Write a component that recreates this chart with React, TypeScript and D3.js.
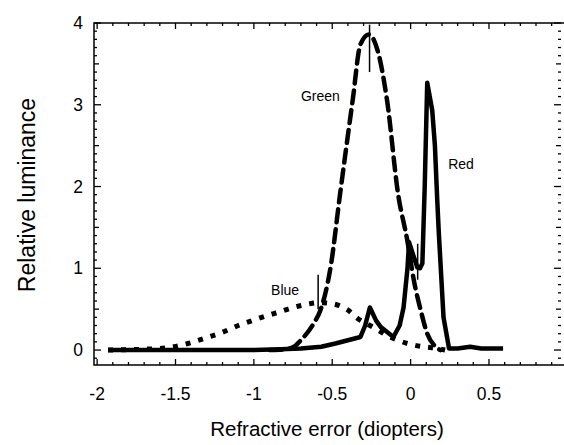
import * as d3 from "d3";
import React from "react";

// values
const redX = [-1.93, -1.5, -1.0, -0.83, -0.7, -0.57, -0.48, -0.4, -0.32, -0.29, -0.26, -0.22, -0.19, -0.15, -0.11, -0.07, -0.045, -0.02, -0.01, 0.01, 0.043, 0.06, 0.075, 0.09, 0.106, 0.138, 0.155, 0.17, 0.18, 0.21, 0.245, 0.3, 0.38, 0.45, 0.59];
const redY = [0.0, 0.0, 0.0, 0.01, 0.02, 0.04, 0.08, 0.12, 0.16, 0.3, 0.52, 0.36, 0.28, 0.22, 0.16, 0.3, 0.52, 1.0, 1.32, 1.2, 1.01, 1.0, 1.06, 2.0, 3.27, 2.93, 2.5, 1.83, 1.43, 0.4, 0.02, 0.02, 0.04, 0.02, 0.02];

const greenX = [-0.9, -0.8, -0.745, -0.7, -0.617, -0.575, -0.51, -0.45, -0.37, -0.32, -0.266, -0.21, -0.15, -0.08, -0.021, 0.021, 0.064, 0.106, 0.16, 0.19];
const greenY = [0.0, 0.01, 0.04, 0.12, 0.33, 0.49, 1.02, 1.91, 3.05, 3.74, 3.86, 3.66, 3.05, 1.91, 1.34, 0.85, 0.49, 0.2, 0.04, 0.0];

const blueX = [-1.93, -1.7, -1.6, -1.51, -1.42, -1.32, -1.21, -1.1, -0.98, -0.85, -0.75, -0.66, -0.58, -0.51, -0.45, -0.4, -0.34, -0.24, -0.13, -0.02, 0.08, 0.17, 0.22];
const blueY = [0.0, 0.01, 0.02, 0.04, 0.08, 0.14, 0.21, 0.3, 0.38, 0.46, 0.52, 0.56, 0.58, 0.57, 0.54, 0.49, 0.39, 0.28, 0.16, 0.08, 0.04, 0.02, 0.0];

// thin peak markers
const markerX = [-0.262, -0.59, 0.045];
const markerTop = [3.98, 0.92, 1.3];
const markerBottom = [3.4, 0.5, 0.86];

const seriesLabels = ["Green", "Red", "Blue"];
const labelX = [-0.7, 0.24, -0.89];
const labelY = [3.05, 2.22, 0.67];

const xTickLabels = [-2, -1.5, -1, -0.5, 0, 0.5];
const yTickLabels = [0, 1, 2, 3, 4];

const font = "'Liberation Sans', Arial, Helvetica, sans-serif";

const App = () => {
    const width = 564;
    const height = 445;
    const left = 94;
    const right = 565;
    const top = 23;
    const bottom = 365;

    const x = d3.scaleLinear().domain([-2.02, 0.985]).range([left, right]);
    const y = d3.scaleLinear().domain([-0.183, 4.0]).range([bottom, top]);

    const zip = (xs: number[], ys: number[]) => xs.map((v, i) => [v, ys[i]] as [number, number]);

    const smooth = d3.line<[number, number]>()
        .x(d => x(d[0]))
        .y(d => y(d[1]))
        .curve(d3.curveMonotoneX);
    const sharp = d3.line<[number, number]>()
        .x(d => x(d[0]))
        .y(d => y(d[1]));

    const xMinor = d3.range(-20, 10).map(i => i / 10);
    const yMinor = d3.range(-1, 41).map(i => i / 10);

    return (
        <svg width={width} height={height} style={{ position: "absolute", left: 0, top: 0 }}>
            <rect width={width} height={height} fill="white" />

            {/* frame */}
            <path d={`M${right},${top}H${left}V${bottom}H${right}`} fill="none" stroke="black" strokeWidth={1.5} />

            {/* x ticks, bottom and top, pointing inward */}
            {xMinor.map(v => {
                const major = Math.abs(v * 2 - Math.round(v * 2)) < 1e-6;
                const len = major ? 6 : 3;
                return (
                    <g key={"x" + v}>
                        <line x1={x(v)} x2={x(v)} y1={bottom} y2={bottom - len} stroke="black" strokeWidth={1.3} />
                        <line x1={x(v)} x2={x(v)} y1={top} y2={top + len} stroke="black" strokeWidth={1.3} />
                    </g>
                );
            })}

            {/* y ticks, left and right */}
            {yMinor.map(v => {
                const whole = Math.abs(v - Math.round(v)) < 1e-6;
                const half = Math.abs(v * 2 - Math.round(v * 2)) < 1e-6;
                const len = whole ? 7 : half ? 5 : 3;
                return (
                    <g key={"y" + v}>
                        <line x1={left} x2={left + len} y1={y(v)} y2={y(v)} stroke="black" strokeWidth={1.3} />
                        <line x1={right - 4} x2={right - 4 - len} y1={y(v)} y2={y(v)} stroke="black" strokeWidth={1.3} />
                    </g>
                );
            })}

            {xTickLabels.map(v => (
                <text key={"xl" + v} x={x(v)} y={400} textAnchor="middle" fontFamily={font} fontSize={17.5}>{v}</text>
            ))}
            {yTickLabels.map(v => (
                <text key={"yl" + v} x={83} y={y(v) + 6} textAnchor="end" fontFamily={font} fontSize={17.5}>{v}</text>
            ))}

            <text x={327} y={436} textAnchor="middle" fontFamily={font} fontSize={20.5}>Refractive error (diopters)</text>
            <text transform="translate(35,195) rotate(-90)" textAnchor="middle" fontFamily={font} fontSize={23}>Relative luminance</text>

            {/* curves */}
            <path d={smooth(zip(blueX, blueY)) ?? ""} fill="none" stroke="black" strokeWidth={5} strokeDasharray="5,8" />
            <path d={smooth(zip(greenX, greenY)) ?? ""} fill="none" stroke="black" strokeWidth={4.5} strokeDasharray="13,7" strokeLinecap="round" />
            <path d={sharp(zip(redX, redY)) ?? ""} fill="none" stroke="black" strokeWidth={4.5} strokeLinejoin="round" />

            {markerX.map((v, i) => (
                <line key={"m" + i} x1={x(v)} x2={x(v)} y1={y(markerTop[i])} y2={y(markerBottom[i])} stroke="black" strokeWidth={1.5} />
            ))}

            {seriesLabels.map((s, i) => (
                <text key={s} x={x(labelX[i])} y={y(labelY[i])} fontFamily={font} fontSize={14}>{s}</text>
            ))}
        </svg>
    );
};

export default App;
